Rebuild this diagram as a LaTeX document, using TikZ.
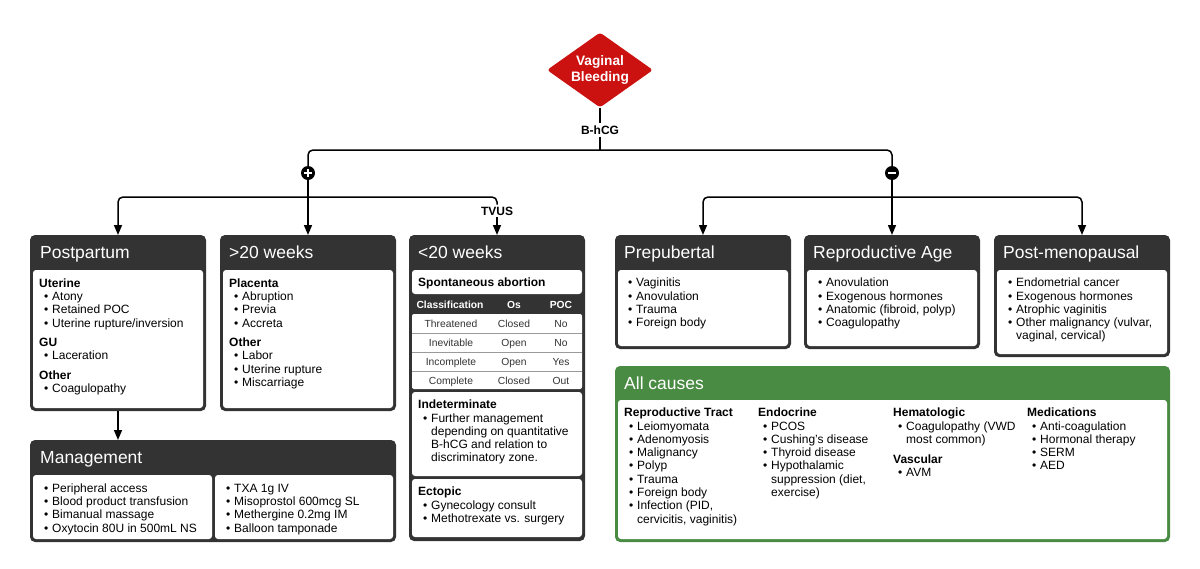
\documentclass[tikz,border=0pt]{standalone}
\usepackage{fontspec}
\setmainfont{Liberation Sans}
\usetikzlibrary{arrows.meta,shapes.geometric}
\definecolor{hdr}{HTML}{333333}
\definecolor{grn}{HTML}{4A8B43}
\definecolor{dred}{HTML}{CC1111}
\definecolor{rowline}{HTML}{9A9A9A}
\definecolor{rowtxt}{HTML}{333333}
\newcommand\bodysz{\fontsize{12}{13.3}\selectfont}
\newcommand\itm[1]{\hspace*{5pt}\makebox[8pt][l]{\textbullet}#1}
\newcommand\cnt[1]{\hspace*{13pt}#1}
\newcommand\fl{\rule{0pt}{10pt}}
\begin{document}
\begin{tikzpicture}[x=1pt,y=-1pt,
  conn/.style={line width=1.5pt, black, rounded corners=5pt},
  arr/.style={conn, -{Triangle[width=8pt,length=10pt]}},
  outerbox/.style={fill=hdr, rounded corners=5pt, inner sep=0pt, outer sep=0pt, anchor=north west},
  greenbox/.style={outerbox, fill=grn},
  panel/.style={fill=white, rounded corners=3pt, inner sep=0pt, outer sep=0pt, anchor=north west},
  title/.style={anchor=base west, inner sep=0pt, text=white, font=\fontsize{17.5}{20}\selectfont},
  body/.style={anchor=north west, inner sep=0pt, align=left, font=\bodysz},
  lbl/.style={font=\bfseries\fontsize{12}{13}\selectfont, inner sep=2pt},
  tbl/.style={font=\fontsize{10.3}{12}\selectfont, anchor=base, inner sep=0pt, text=rowtxt},
  tblh/.style={anchor=base, inner sep=0pt, text=white, font=\bfseries\fontsize{10.3}{12}\selectfont},
  sign/.style={circle, fill=black, minimum size=14pt, inner sep=0pt}]
\useasboundingbox (0,0) rectangle (1200,568);
\fill[white] (0,0) rectangle (1200,568);

% ---------- top ----------
\node[diamond, aspect=1.41, fill=dred, minimum width=106pt, minimum height=75pt, inner sep=0pt,
  rounded corners=3pt, text=white, align=center, font=\bfseries\fontsize{13.7}{16}\selectfont] (vb) at (600,70) {Vaginal\\Bleeding};
\node[lbl] (bh) at (600,130) {B-hCG};
\coordinate (bsplit) at (600,150);
\node[sign] (plus) at (308,173) {};
\node[sign] (minus) at (892,173) {};
\draw[white, line width=2pt] ([xshift=-3.8pt]plus.center) -- ([xshift=3.8pt]plus.center);
\draw[white, line width=2pt] ([yshift=-3.8pt]plus.center) -- ([yshift=3.8pt]plus.center);
\draw[white, line width=2pt] ([xshift=-3.8pt]minus.center) -- ([xshift=3.8pt]minus.center);
\coordinate (psplit) at (308,197);
\coordinate (msplit) at (892,197);
\node[lbl] (tvus) at (497,211) {TVUS};

% ---------- boxes ----------
% Postpartum
\node[outerbox, minimum width=176pt, minimum height=176pt] (pp) at (30,235) {};
\node[title] (ppt) at (40,258) {Postpartum};
\node[panel, minimum width=170pt, minimum height=138pt] (ppp) at (33,270) {};
\node[body] (ppb) at (39,277) {\fl\textbf{Uterine}\\\itm{Atony}\\\itm{Retained POC}\\\itm{Uterine rupture/inversion}\\[6pt]
  \textbf{GU}\\\itm{Laceration}\\[6pt]\textbf{Other}\\\itm{Coagulopathy}};

% >20 weeks
\node[outerbox, minimum width=176pt, minimum height=176pt] (gt) at (220,235) {};
\node[title] (gtt) at (229,258) {>20 weeks};
\node[panel, minimum width=170pt, minimum height=138pt] (gtp) at (223,270) {};
\node[body] (gtb) at (229,277) {\fl\textbf{Placenta}\\\itm{Abruption}\\\itm{Previa}\\\itm{Accreta}\\[6pt]
  \textbf{Other}\\\itm{Labor}\\\itm{Uterine rupture}\\\itm{Miscarriage}};

% <20 weeks
\node[outerbox, minimum width=176pt, minimum height=306pt] (lt) at (409,235) {};
\node[title] (ltt) at (418,258) {<20 weeks};
\node[panel, minimum width=170pt, minimum height=24pt] (sap) at (412,270) {};
\node[anchor=base west, inner sep=0pt, font=\bfseries\bodysz] (sat) at (418,286) {Spontaneous abortion};
\node[tblh] (h1) at (450,308.5) {Classification};
\node[tblh] (h2) at (514,308.5) {Os};
\node[tblh] (h3) at (561,308.5) {POC};
\node[panel, rounded corners=2pt, minimum width=170pt, minimum height=75pt] (rows) at (412,314) {};
\draw[rowline, line width=0.8pt] (412,333) -- (582,333) (412,352) -- (582,352) (412,371) -- (582,371);
\node[tbl] (r11) at (451,327.5) {Threatened};
\node[tbl] (r12) at (514,327.5) {Closed};
\node[tbl] (r13) at (561,327.5) {No};
\node[tbl] (r21) at (451,346.5) {Inevitable};
\node[tbl] (r22) at (514,346.5) {Open};
\node[tbl] (r23) at (561,346.5) {No};
\node[tbl] (r31) at (451,365.5) {Incomplete};
\node[tbl] (r32) at (514,365.5) {Open};
\node[tbl] (r33) at (561,365.5) {Yes};
\node[tbl] (r41) at (451,384) {Complete};
\node[tbl] (r42) at (514,384) {Closed};
\node[tbl] (r43) at (561,384) {Out};
\node[panel, minimum width=170pt, minimum height=84pt] (inp) at (412,392) {};
\node[body] (inb) at (418,398.5) {\fl\textbf{Indeterminate}\\\itm{Further management}\\\cnt{depending on quantitative}\\
  \cnt{B-hCG and relation to}\\\cnt{discriminatory zone.}};
\node[panel, minimum width=170pt, minimum height=58pt] (ecp) at (412,479) {};
\node[body] (ecb) at (418,485.5) {\fl\textbf{Ectopic}\\\itm{Gynecology consult}\\\itm{Methotrexate vs. surgery}};

% Management
\node[outerbox, minimum width=366pt, minimum height=102pt] (mg) at (30,440) {};
\node[title] (mgt) at (40,463) {Management};
\node[panel, minimum width=179pt, minimum height=64pt] (mgl) at (33,475) {};
\node[panel, minimum width=178pt, minimum height=64pt] (mgr) at (215,475) {};
\node[body] (mglb) at (39,482) {\fl\itm{Peripheral access}\\\itm{Blood product transfusion}\\\itm{Bimanual massage}\\\itm{Oxytocin 80U in 500mL NS}};
\node[body] (mgrb) at (221,482) {\fl\itm{TXA 1g IV}\\\itm{Misoprostol 600mcg SL}\\\itm{Methergine 0.2mg IM}\\\itm{Balloon tamponade}};

% Prepubertal
\node[outerbox, minimum width=176pt, minimum height=114pt] (pre) at (615,235) {};
\node[title] (pret) at (624,258) {Prepubertal};
\node[panel, minimum width=170pt, minimum height=76pt] (prep) at (618,270) {};
\node[body] (preb) at (623,276.5) {\fl\itm{Vaginitis}\\\itm{Anovulation}\\\itm{Trauma}\\\itm{Foreign body}};

% Reproductive age
\node[outerbox, minimum width=176pt, minimum height=114pt] (ra) at (804,235) {};
\node[title] (rat) at (813,258) {Reproductive Age};
\node[panel, minimum width=170pt, minimum height=76pt] (rap) at (807,270) {};
\node[body] (rab) at (813,276.5) {\fl\itm{Anovulation}\\\itm{Exogenous hormones}\\\itm{Anatomic (fibroid, polyp)}\\\itm{Coagulopathy}};

% Post-menopausal
\node[outerbox, minimum width=176pt, minimum height=122pt] (pm) at (994,235) {};
\node[title] (pmt) at (1003,258) {Post-menopausal};
\node[panel, minimum width=170pt, minimum height=84pt] (pmp) at (997,270) {};
\node[body] (pmb) at (1003,276.5) {\fl\itm{Endometrial cancer}\\\itm{Exogenous hormones}\\\itm{Atrophic vaginitis}\\
  \itm{Other malignancy (vulvar,}\\\cnt{vaginal, cervical)}};

% All causes
\node[greenbox, minimum width=555pt, minimum height=176pt] (ac) at (615,366) {};
\node[title] (act) at (624,389) {All causes};
\node[panel, minimum width=549pt, minimum height=139pt] (acp) at (618,400) {};
\node[body] (ac1) at (624,406.5) {\fl\textbf{Reproductive Tract}\\\itm{Leiomyomata}\\\itm{Adenomyosis}\\\itm{Malignancy}\\\itm{Polyp}\\
  \itm{Trauma}\\\itm{Foreign body}\\\itm{Infection (PID,}\\\cnt{cervicitis, vaginitis)}};
\node[body] (ac2) at (758,406.5) {\fl\textbf{Endocrine}\\\itm{PCOS}\\\itm{Cushing's disease}\\\itm{Thyroid disease}\\
  \itm{Hypothalamic}\\\cnt{suppression (diet,}\\\cnt{exercise)}};
\node[body] (ac3) at (893,406.5) {\fl\textbf{Hematologic}\\\itm{Coagulopathy (VWD}\\\cnt{most common)}\\[6.7pt]
  \textbf{Vascular}\\\itm{AVM}};
\node[body] (ac4) at (1027,406.5) {\fl\textbf{Medications}\\\itm{Anti-coagulation}\\\itm{Hormonal therapy}\\\itm{SERM}\\\itm{AED}};

% ---------- connectors ----------
\draw[conn] (vb.south) -- (bh.north);
\draw[conn] (bh.south) -- (bsplit);
\draw[conn] (bsplit) -| (plus.north);
\draw[conn] (bsplit) -| (minus.north);
\draw[conn] (plus.south) -- (psplit);
\draw[conn] (minus.south) -- (msplit);
\draw[arr] (psplit) -| (pp.north);
\draw[arr] (psplit) -- (gt.north);
\draw[conn] (psplit) -| (tvus.north);
\draw[arr] (tvus.south) -- (lt.north);
\draw[arr] (msplit) -| (pre.north);
\draw[arr] (msplit) -- (ra.north);
\draw[arr] (msplit) -| (pm.north);
\draw[arr] (pp.south) -- (pp.south |- mg.north);
\end{tikzpicture}
\end{document}
